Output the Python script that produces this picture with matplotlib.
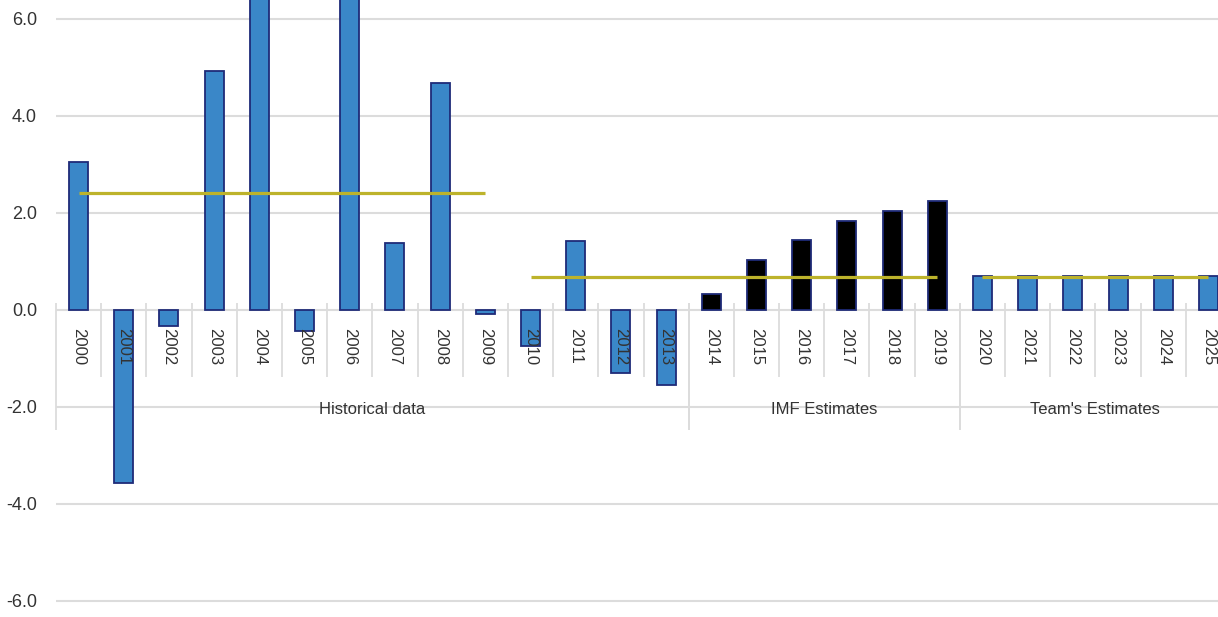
import numpy as np
import matplotlib.pyplot as plt

plt.rcParams['font.family'] = ['Liberation Sans', 'DejaVu Sans']

years = [str(y) for y in range(2000, 2026)]
growth = [3.05, -3.57, -0.33, 4.93, 7.0, -0.43, 7.4, 1.38, 4.68, -0.08,
          -0.74, 1.42, -1.30, -1.55, 0.33, 1.03, 1.44, 1.84, 2.04, 2.25,
          0.70, 0.70, 0.70, 0.70, 0.70, 0.70]
groups = ['Historical data', 'IMF Estimates', "Team's Estimates"]
group_bounds = [(0, 13), (14, 19), (20, 25)]
avg_values = [2.41, 0.68, 0.68]
avg_spans = [(0, 9), (10, 19), (20, 25)]
yticks = [-6, -4, -2, 0, 2, 4, 6]

blue = '#3A87C8'
edge = '#1F2B78'
grid_c = '#DCDCDC'
text_c = '#333333'
line_c = '#BDB32B'

fig = plt.figure(figsize=(12.18, 6.17), dpi=100)
ax = fig.add_axes([56 / 1218, 0, (1231 - 56) / 1218, 1])

x = np.arange(len(years))
colors = [blue if (i < 14 or i > 19) else 'black' for i in x]
ax.bar(x, growth, width=0.42, color=colors, edgecolor=edge, linewidth=1.3, zorder=2)

for (a, b), v in zip(avg_spans, avg_values):
    ax.plot([a, b], [v, v], color=line_c, lw=2.3, zorder=3, solid_capstyle='butt')

ax.set_xlim(-0.5, len(years) - 0.5)
ax.set_ylim(-6.33, 6.39)
ax.set_yticks(yticks)
ax.set_yticklabels(['%.1f' % t for t in yticks], fontsize=13, color=text_c)
ax.tick_params(axis='y', length=0, pad=13.7)
ax.set_xticks([])
ax.grid(axis='y', color=grid_c, lw=1.5)
ax.set_axisbelow(True)
for s in ax.spines.values():
    s.set_visible(False)

# multi-level category axis
top = 0.14
for i in range(1, len(years)):
    ax.vlines(i - 0.5, -1.38, top, color=grid_c, lw=1.3, zorder=1)
for a, b in group_bounds:
    ax.vlines([a - 0.5, b + 0.5], -2.47, top, color=grid_c, lw=1.3, zorder=1, clip_on=False)
for i, yr in enumerate(years):
    ax.text(i, -0.37, yr, rotation=-90, ha='center', va='top', fontsize=12,
            color=text_c, zorder=4)
for (a, b), g in zip(group_bounds, groups):
    ax.text((a + b) / 2, -2.06, g, ha='center', va='center', fontsize=12,
            color=text_c, zorder=4)

fig.savefig('out.png', dpi=100)
